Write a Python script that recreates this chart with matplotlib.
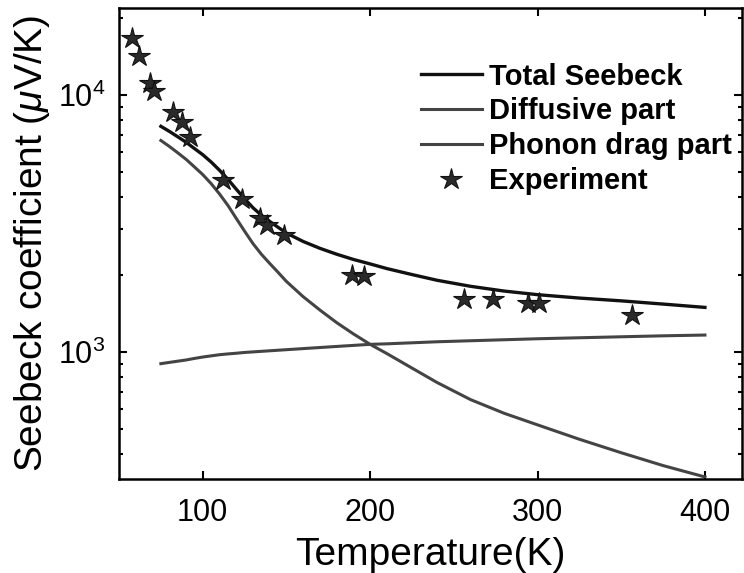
import numpy as np
import matplotlib.pyplot as plt
from matplotlib.ticker import LogLocator, NullFormatter

plt.rcParams['font.family'] = ['Liberation Sans', 'DejaVu Sans']
plt.rcParams['mathtext.fontset'] = 'custom'
plt.rcParams['mathtext.rm'] = 'Liberation Sans'
plt.rcParams['mathtext.it'] = 'Liberation Sans:italic'

# model curves
T_model = [75, 80, 85, 90, 95, 100, 105, 110, 115, 120, 125, 130, 135, 140, 145, 150,
           160, 170, 180, 190, 200, 210, 225, 240, 260, 280, 300, 325, 350, 375, 400]
S_total = [7550, 7220, 6880, 6550, 6190, 5855, 5485, 5095, 4700, 4300, 3945, 3640, 3405, 3220, 3055, 2900,
           2690, 2530, 2400, 2290, 2200, 2110, 2000, 1900, 1800, 1725, 1670, 1620, 1580, 1535, 1490]
S_diff = [6650, 6310, 5960, 5620, 5250, 4900, 4520, 4120, 3720, 3310, 2950, 2640, 2400, 2210, 2040, 1880,
          1640, 1455, 1300, 1175, 1070, 985, 865, 760, 652, 577, 520, 457, 405, 361, 326]
S_phonon = [900, 910, 920, 930, 943, 955, 965, 975, 982, 988, 995, 1000, 1005, 1010, 1015, 1020,
            1030, 1040, 1050, 1060, 1070, 1075, 1085, 1095, 1105, 1115, 1125, 1135, 1145, 1155, 1163]

# experiment
T_exp = [57.6, 62.1, 68.5, 70.9, 82.1, 87.5, 92.1, 112.4, 123.4, 134.3, 138.4, 148.3,
         189.2, 196.2, 256, 273.5, 294.4, 300.8, 356.7]
S_exp = [16600, 14170, 11160, 10390, 8620, 7880, 6890, 4680, 3920, 3330, 3130, 2840,
         2000, 1980, 1602, 1611, 1545, 1545, 1388]

fig = plt.figure(figsize=(7.44, 5.73), dpi=100)
ax = fig.add_axes([0.160, 0.164, 0.837, 0.822])

ax.plot(T_model, S_total, color='#111111', lw=2.4, label='Total Seebeck')
ax.plot(T_model, S_diff, color='#444444', lw=2.2, label='Diffusive part')
ax.plot(T_model, S_phonon, color='#444444', lw=2.2, label='Phonon drag part')
ax.plot(T_exp, S_exp, linestyle='none', marker='*', markersize=16,
        color='#2a2a2a', markeredgecolor='#111111', markeredgewidth=0.8, label='Experiment')

ax.set_yscale('log')
ax.set_xlim(50, 422)
ax.set_ylim(320, 21800)
ax.set_xticks([100, 200, 300, 400])
ax.yaxis.set_major_locator(LogLocator(base=10))
ax.yaxis.set_minor_locator(LogLocator(base=10, subs=np.arange(2, 10)))
ax.yaxis.set_minor_formatter(NullFormatter())

ax.tick_params(which='both', direction='in', top=True, right=True, labelsize=22, width=1.5)
ax.tick_params(which='major', length=6)
ax.tick_params(which='minor', length=3)
ax.tick_params(axis='x', pad=14)
ax.tick_params(axis='y', pad=10)
for s in ax.spines.values():
    s.set_linewidth(1.8)

ax.set_xlabel('Temperature(K)', fontsize=28, labelpad=6)
ax.set_ylabel(r'Seebeck coefficient ($\mu$V/K)', fontsize=28, labelpad=4)

leg = ax.legend(loc='upper right', bbox_to_anchor=(1.008, 0.915), frameon=False,
                prop={'weight': 'bold', 'size': 21}, handlelength=2.1,
                handletextpad=0.25, labelspacing=0.23, borderaxespad=0.1)

fig.savefig('out.png', dpi=100)
